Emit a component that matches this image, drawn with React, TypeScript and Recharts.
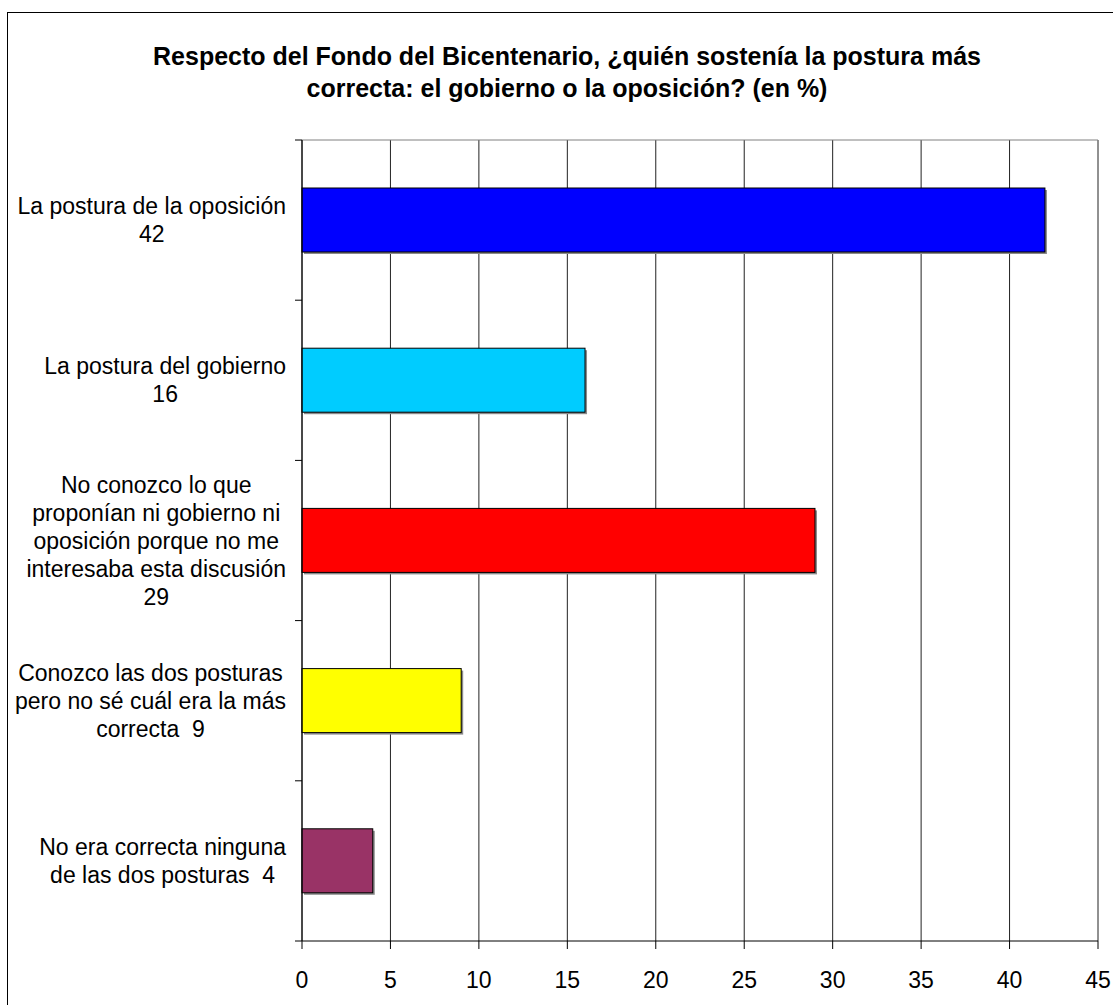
import React from 'react';
import { BarChart, Bar, XAxis, YAxis, CartesianGrid, Cell } from 'recharts';

// Data
const categoryLines: string[][] = [
  ['La postura de la oposición'],
  ['La postura del gobierno'],
  ['No conozco lo que', 'proponían ni gobierno ni', 'oposición porque no me', 'interesaba esta discusión'],
  ['Conozco las dos posturas', 'pero no sé cuál era la más', 'correcta'],
  ['No era correcta ninguna', 'de las dos posturas'],
];
const values = [42, 16, 29, 9, 4];
// whether the value is written at the end of the last label line (true) or on its own line
const valueInline = [false, false, false, true, true];
const barColors = ['#0000FF', '#00CCFF', '#FF0000', '#FFFF00', '#993366'];
const xTicks = [0, 5, 10, 15, 20, 25, 30, 35, 40, 45];

const titleLines = [
  'Respecto del Fondo del Bicentenario, ¿quién sostenía la postura más',
  'correcta: el gobierno o la oposición? (en %)',
];

const FONT = "Arial, 'Liberation Sans', Helvetica, sans-serif";
const LABEL_SIZE = 23;
const LINE_H = 28;

const chartData = categoryLines.map((lines, i) => ({
  name: String(i),
  lines: valueInline[i]
    ? [...lines.slice(0, -1), `${lines[lines.length - 1]}  ${values[i]}`]
    : [...lines, String(values[i])],
  value: values[i],
}));

let measureCtx: CanvasRenderingContext2D | null = null;
const textWidth = (s: string) => {
  if (!measureCtx) {
    measureCtx = document.createElement('canvas').getContext('2d');
  }
  if (!measureCtx) return s.length * LABEL_SIZE * 0.5;
  measureCtx.font = `${LABEL_SIZE}px ${FONT}`;
  return measureCtx.measureText(s).width;
};

const CategoryTick = (props: any) => {
  const { x, y, payload, index, visibleTicksCount, height } = props;
  const entry = chartData[Number(payload.value)];
  if (!entry) return null;
  const lines = entry.lines;
  const maxW = Math.max(...lines.map(textWidth));
  const cx = x - maxW / 2;
  const step = (typeof height === 'number' ? height : 801) / (visibleTicksCount || 5);
  const firstY = y - ((lines.length - 1) * LINE_H) / 2;
  return (
    <g>
      <line x1={x + 9} x2={x + 16} y1={y - step / 2} y2={y - step / 2} stroke="#000" />
      {index === visibleTicksCount - 1 && (
        <line x1={x + 9} x2={x + 16} y1={y + step / 2} y2={y + step / 2} stroke="#000" />
      )}
      <text
        textAnchor="middle"
        fontSize={LABEL_SIZE}
        fontFamily={FONT}
        fill="#000"
        style={{ whiteSpace: 'pre' }}
      >
        {lines.map((l: string, i: number) => (
          <tspan key={i} x={cx} y={firstY + i * LINE_H} dy="0.35em">
            {l}
          </tspan>
        ))}
      </text>
    </g>
  );
};

const ShadowBar = (props: any) => {
  const { x, y, width, height, fill } = props;
  if (!width || width <= 0) return null;
  return (
    <g>
      <rect x={x + 2} y={y + 2} width={width} height={height} fill="#8a8a8a" />
      <rect x={x} y={y} width={width} height={height} fill={fill} stroke="#000" strokeWidth={1} />
    </g>
  );
};

export default function App() {
  return (
    <div style={{ position: 'relative', width: 1113, height: 1005, overflow: 'hidden', background: '#fff' }}>
      <style>{`body{margin:0;}`}</style>
      <div
        style={{
          position: 'absolute',
          left: 7,
          top: 12,
          width: 1200,
          height: 1100,
          border: '1px solid #000',
        }}
      />
      <div
        style={{
          position: 'absolute',
          left: 67,
          top: 40,
          width: 1000,
          textAlign: 'center',
          fontFamily: FONT,
          fontWeight: 'bold',
          fontSize: 25,
          lineHeight: '32px',
          color: '#000',
        }}
      >
        {titleLines.map((t, i) => (
          <div key={i}>{t}</div>
        ))}
      </div>
      <div style={{ position: 'absolute', left: 0, top: 0 }}>
        <BarChart
          width={1113}
          height={1005}
          data={chartData}
          layout="vertical"
          margin={{ top: 140, right: 15, bottom: 0, left: 0 }}
        >
          <CartesianGrid vertical horizontal={false} stroke="#222" strokeOpacity={1} />
          <CartesianGrid
            vertical={false}
            horizontal
            stroke="#808080"
            horizontalCoordinatesGenerator={(p: any) => [p.offset.top]}
          />
          <XAxis
            type="number"
            domain={[0, 45]}
            ticks={xTicks}
            interval={0}
            height={64}
            tickSize={8}
            tickMargin={23}
            axisLine={{ stroke: '#000' }}
            tickLine={{ stroke: '#000' }}
            tick={{ fontSize: 23, fill: '#000', fontFamily: FONT }}
          />
          <YAxis
            type="category"
            dataKey="name"
            width={302}
            interval={0}
            tickSize={7}
            tickMargin={9}
            tickLine={false}
            axisLine={{ stroke: '#000' }}
            tick={<CategoryTick />}
          />
          <Bar dataKey="value" barSize={64} shape={<ShadowBar />} isAnimationActive={false}>
            {chartData.map((_, i) => (
              <Cell key={`cell-${i}`} fill={barColors[i]} />
            ))}
          </Bar>
        </BarChart>
      </div>
    </div>
  );
}
